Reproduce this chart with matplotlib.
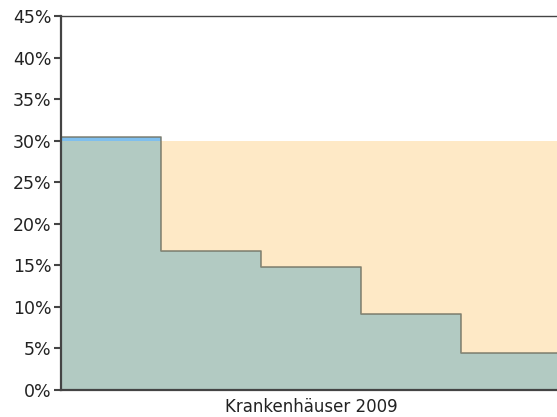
import numpy as np
import matplotlib.pyplot as plt
from matplotlib.ticker import FuncFormatter

# values (percent)
groups = [0, 1, 2, 3, 4]
shares = [30.5, 16.7, 14.8, 9.1, 4.4]
cap = 30.0
yticks = [0, 5, 10, 15, 20, 25, 30, 35, 40, 45]
xlabel = "Krankenhäuser 2009"

green = "#b2cac2"
peach = "#fee9c6"
blue = "#7fbfee"
edge = "#6f6f5f"

fig = plt.figure(figsize=(5.57, 4.17), dpi=100)
ax = fig.add_axes([61 / 557, 27 / 417, 500 / 557, 374 / 417])

x = np.array(groups + [groups[-1] + 1])
vals = np.array(shares + [shares[-1]])
below = np.minimum(vals, cap)

# peach band up to the cap (except where the value is above it)
peach_top = np.where(vals >= cap, 0, cap)
ax.fill_between(x, below, np.maximum(peach_top, below), step="post", color=peach, lw=0)
# green part up to the value or cap
ax.fill_between(x, 0, below, step="post", color=green, lw=0)
# blue part above the cap
ax.fill_between(x, cap, np.maximum(vals, cap), step="post", color=blue, lw=0)
ax.step(x, vals, where="post", color=edge, lw=1.2, alpha=0.8)

ax.set_xlim(0, 5)
ax.set_ylim(0, 45)
ax.set_yticks(yticks)
ax.yaxis.set_major_formatter(FuncFormatter(lambda v, p: f"{v:.0f}%"))
ax.set_xticks([])
ax.set_xlabel(xlabel, fontsize=12, color="#222222", labelpad=6)

for s in ["left", "bottom", "top"]:
    ax.spines[s].set_color("#444444")
ax.spines["left"].set_linewidth(1.6)
ax.spines["bottom"].set_linewidth(1.6)
ax.spines["top"].set_linewidth(1.0)
ax.spines["right"].set_visible(False)
ax.tick_params(axis="y", length=5, width=1.5, color="#444444", labelsize=12.5,
               labelcolor="#222222", pad=2)

fig.savefig("out.png", dpi=100)
